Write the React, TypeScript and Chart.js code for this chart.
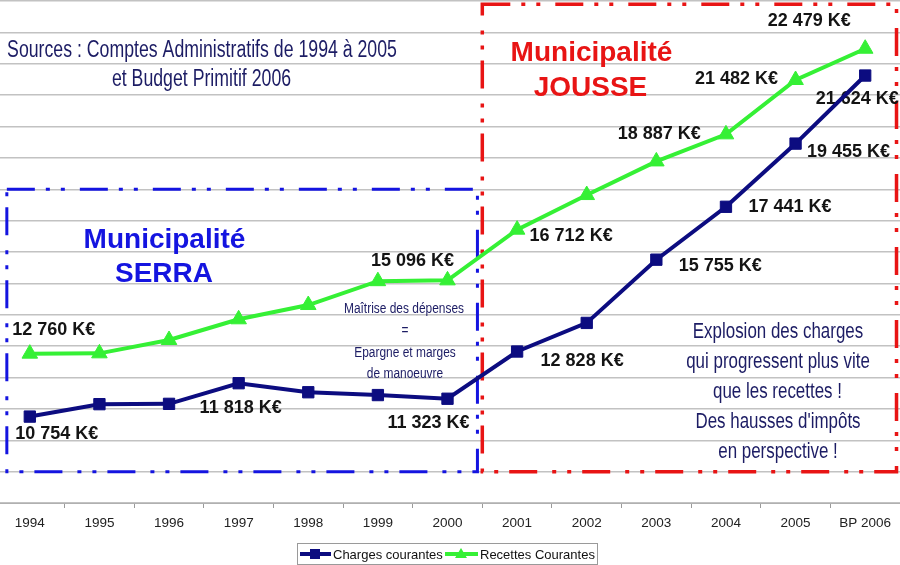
import React, { useEffect, useRef } from "react";
import { Chart, registerables } from "chart.js";

Chart.register(...registerables);

// ---- data ----
const categories = ["1994", "1995", "1996", "1997", "1998", "1999", "2000", "2001", "2002", "2003", "2004", "2005", "BP 2006"];
const chargesCourantes = [10754, 11150, 11160, 11818, 11530, 11440, 11323, 12828, 13740, 15755, 17441, 19455, 21624];
const recettesCourantes = [12760, 12770, 13195, 13855, 14310, 15070, 15096, 16712, 17815, 18887, 19750, 21482, 22479];
const seriesNames = ["Charges courantes", "Recettes Courantes"];
const yMin = 8000;
const yMax = 24000;
const yStep = 1000;

// ---- styling / layout (not data) ----
const NAVY = "#0c0c80";
const GREEN = "#35f035";
const TXT_NAVY = "#1c1c64";
const BLUE = "#1414e0";
const RED = "#e81414";
const CX = 5; // canvas is shifted 5px left of the page

// value labels: [dataset, index, dx, dy] (offset of label centre from point)
const labelPlacement: [number, number, number, number][] = [
  [0, 0, 27, 17],
  [0, 3, 2, 25],
  [0, 6, -19, 24],
  [0, 7, 65, 10],
  [0, 9, 64, 6],
  [0, 10, 64, 0],
  [0, 11, 53, 8],
  [0, 12, -8, 23],
  [1, 0, 24, -24],
  [1, 6, -35, -19],
  [1, 7, 54, 6],
  [1, 9, 3, -27],
  [1, 11, -59, -1],
  [1, 12, -56, -28],
];

// period boxes in scale coordinates: [x0, x1, y0, y1]
const serraBox = [-0.33, 6.43, 9000, 18000];
const jousseBox = [6.5, 12.45, 9000, 23900];

type Note = { text: string; x: number; y: number; size: number; sx: number; color: string; bold?: boolean };
const notes: Note[] = [
  { text: "Sources : Comptes Administratifs de 1994 à 2005", x: 202, y: 57, size: 23, sx: 0.77, color: TXT_NAVY },
  { text: "et Budget Primitif 2006", x: 201.5, y: 86, size: 23, sx: 0.77, color: TXT_NAVY },
  { text: "Municipalité", x: 164.5, y: 248, size: 28, sx: 1, color: BLUE, bold: true },
  { text: "SERRA", x: 164, y: 282, size: 28, sx: 1, color: BLUE, bold: true },
  { text: "Municipalité", x: 591.5, y: 61, size: 28, sx: 1, color: RED, bold: true },
  { text: "JOUSSE", x: 590.5, y: 96, size: 28, sx: 1, color: RED, bold: true },
  { text: "Maîtrise des dépenses", x: 404, y: 313, size: 15.5, sx: 0.77, color: TXT_NAVY },
  { text: "=", x: 405, y: 335, size: 15.5, sx: 0.77, color: TXT_NAVY },
  { text: "Epargne et marges", x: 405, y: 357, size: 15.5, sx: 0.77, color: TXT_NAVY },
  { text: "de manoeuvre", x: 405, y: 378, size: 15.5, sx: 0.77, color: TXT_NAVY },
  { text: "Explosion des charges", x: 778, y: 338, size: 22, sx: 0.77, color: TXT_NAVY },
  { text: "qui progressent plus vite", x: 778, y: 368, size: 22, sx: 0.77, color: TXT_NAVY },
  { text: "que les recettes !", x: 777.5, y: 398, size: 22, sx: 0.77, color: TXT_NAVY },
  { text: "Des hausses d'impôts", x: 778, y: 428, size: 22, sx: 0.77, color: TXT_NAVY },
  { text: "en perspective !", x: 778, y: 458, size: 22, sx: 0.77, color: TXT_NAVY },
];

const FONT = 'Arial, "Liberation Sans", sans-serif';

function fmt(v: number): string {
  const th = Math.floor(v / 1000);
  const rest = String(v % 1000).padStart(3, "0");
  return `${th} ${rest} K€`;
}

function drawText(ctx: CanvasRenderingContext2D, n: Note, align: CanvasTextAlign = "center") {
  ctx.save();
  ctx.font = `${n.bold ? "bold " : ""}${n.size}px ${FONT}`;
  ctx.fillStyle = n.color;
  ctx.textAlign = align;
  ctx.textBaseline = "alphabetic";
  ctx.translate(n.x + CX, n.y);
  ctx.scale(n.sx, 1);
  ctx.fillText(n.text, 0, 0);
  ctx.restore();
}

function drawBox(chart: any, b: number[], color: string, lw: number) {
  const xs = chart.scales.x;
  const ys = chart.scales.y;
  const l = xs.getPixelForValue(b[0]);
  const r = xs.getPixelForValue(b[1]);
  const t = ys.getPixelForValue(b[3]);
  const bt = ys.getPixelForValue(b[2]);
  const ctx = chart.ctx as CanvasRenderingContext2D;
  ctx.save();
  ctx.strokeStyle = color;
  ctx.lineWidth = lw;
  ctx.setLineDash([28, 11, 4, 11, 4, 15]);
  ctx.lineCap = "butt";
  ctx.strokeRect(l, t, r - l, bt - t);
  ctx.restore();
}

const decorPlugin = {
  id: "decor",
  beforeDatasetsDraw(chart: any) {
    const ctx = chart.ctx as CanvasRenderingContext2D;
    drawBox(chart, serraBox, BLUE, 3);
    drawBox(chart, jousseBox, RED, 3.5);
    notes.forEach((n) => drawText(ctx, n));
    const xs = chart.scales.x;
    const ys = chart.scales.y;
    ctx.save();
    ctx.font = `bold 18px ${FONT}`;
    ctx.fillStyle = "#141414";
    ctx.textAlign = "center";
    ctx.textBaseline = "middle";
    labelPlacement.forEach(([d, i, dx, dy]) => {
      const v = chart.data.datasets[d].data[i] as number;
      const px = xs.getPixelForValue(i);
      const py = ys.getPixelForValue(v);
      ctx.fillText(fmt(v), px + dx, py + dy);
    });
    ctx.restore();
  },
  afterDraw(chart: any) {
    const ctx = chart.ctx as CanvasRenderingContext2D;
    ctx.save();
    // legend frame
    ctx.fillStyle = "#ffffff";
    ctx.fillRect(297 + CX, 543, 300, 21);
    ctx.strokeStyle = "#9a9a9a";
    ctx.lineWidth = 1;
    ctx.strokeRect(297.5 + CX, 543.5, 300, 21);
    const yc = 554;
    // charges item
    ctx.strokeStyle = NAVY;
    ctx.lineWidth = 4;
    ctx.beginPath();
    ctx.moveTo(300 + CX, yc);
    ctx.lineTo(331 + CX, yc);
    ctx.stroke();
    ctx.fillStyle = NAVY;
    ctx.fillRect(315 + CX - 5, yc - 5, 10, 10);
    // recettes item
    ctx.strokeStyle = GREEN;
    ctx.beginPath();
    ctx.moveTo(445 + CX, yc);
    ctx.lineTo(478 + CX, yc);
    ctx.stroke();
    ctx.fillStyle = GREEN;
    ctx.beginPath();
    ctx.moveTo(461 + CX, yc - 6);
    ctx.lineTo(461 + CX + 6, yc + 4);
    ctx.lineTo(461 + CX - 6, yc + 4);
    ctx.closePath();
    ctx.fill();
    ctx.fillStyle = "#111";
    ctx.font = `13px ${FONT}`;
    ctx.textAlign = "left";
    ctx.textBaseline = "alphabetic";
    ctx.fillText(chart.data.datasets[0].label, 333 + CX, 559);
    ctx.fillText(chart.data.datasets[1].label, 480 + CX, 559);
    ctx.restore();
  },
};

export default function App() {
  const ref = useRef<HTMLCanvasElement>(null);
  useEffect(() => {
    const chart = new Chart(ref.current as HTMLCanvasElement, {
      type: "line",
      data: {
        labels: categories,
        datasets: [
          {
            label: seriesNames[0],
            data: chargesCourantes,
            borderColor: NAVY,
            backgroundColor: NAVY,
            borderWidth: 4,
            pointStyle: "rect",
            pointRadius: 8,
            pointBorderWidth: 1,
            pointBackgroundColor: NAVY,
            pointBorderColor: NAVY,
            tension: 0,
          },
          {
            label: seriesNames[1],
            data: recettesCourantes,
            borderColor: GREEN,
            backgroundColor: GREEN,
            borderWidth: 4,
            pointStyle: "triangle",
            pointRadius: 9,
            pointBorderWidth: 1,
            pointBackgroundColor: GREEN,
            pointBorderColor: GREEN,
            tension: 0,
          },
        ],
      },
      options: {
        animation: false,
        responsive: false,
        events: [],
        layout: { autoPadding: false, padding: { top: 1, left: 0, right: 0, bottom: 0 } },
        plugins: { legend: { display: false }, tooltip: { enabled: false } },
        scales: {
          x: {
            offset: true,
            grid: { offset: true, drawOnChartArea: false, drawTicks: true, tickLength: 5, color: "#9a9a9a", lineWidth: 1 },
            border: { display: true, color: "#b0b0b0", width: 1 },
            ticks: { color: "#222", font: { family: FONT, size: 13.5 }, padding: 7, maxRotation: 0, autoSkip: false },
            afterFit: (s: any) => {
              s.height = 62;
            },
          },
          y: {
            min: yMin,
            max: yMax,
            ticks: { display: false, stepSize: yStep },
            grid: { color: "#c2c2c2", lineWidth: 1.5, drawTicks: false },
            border: { display: false },
            afterFit: (s: any) => {
              s.width = 0;
            },
          },
        },
      },
      plugins: [decorPlugin],
    } as any);
    return () => chart.destroy();
  }, []);
  return (
    <div style={{ position: "fixed", left: -CX, top: 0, width: 900 + CX, height: 565, background: "#fff" }}>
      <canvas ref={ref} width={900 + CX} height={565} style={{ display: "block", width: 900 + CX, height: 565 }} />
    </div>
  );
}
